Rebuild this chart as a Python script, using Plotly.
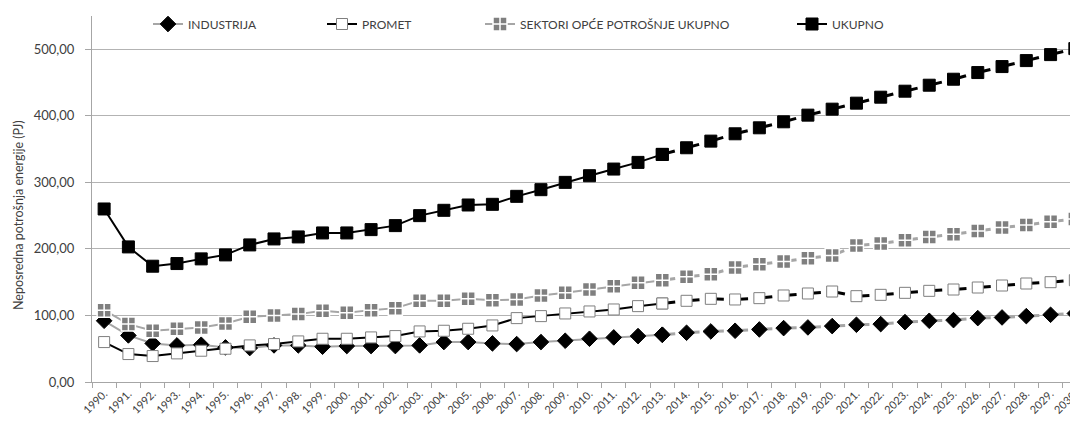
import plotly.graph_objects as go

years = [f"{y}." for y in range(1990, 2031)]

industrija = [92, 70, 58, 55, 56, 52, 51, 55, 55, 53, 54, 54, 54, 55, 60, 60, 58, 57, 60, 62, 65, 67, 69, 71,
              74, 76, 77, 79, 81, 82, 84, 86, 87, 90, 92, 93, 96, 97, 99, 101, 103]
promet = [60, 42, 39, 43, 47, 50, 55, 57, 61, 65, 65, 67, 69, 76, 77, 80, 85, 96, 99, 103, 106, 109, 114, 118,
          122, 125, 124, 126, 130, 133, 136, 129, 131, 134, 137, 139, 142, 145, 148, 150, 153]
sektori = [108, 87, 77, 80, 82, 88, 98, 100, 102, 107, 104, 108, 111, 122, 122, 125, 123, 124, 130, 134, 139, 144, 149, 153,
           158, 162, 172, 177, 181, 186, 190, 205, 208, 213, 218, 222, 227, 232, 236, 241, 245]
ukupno = [260, 203, 174, 178, 185, 191, 206, 215, 218, 224, 224, 229, 235, 250, 258, 266, 267, 279, 289, 300, 310, 320, 330, 342,
          352, 362, 373, 382, 391, 401, 410, 419, 428, 437, 446, 455, 465, 474, 483, 492, 501]

hist_end = 2013 - 1990  # last historical index

series = [
    dict(name="INDUSTRIJA", y=industrija, line="#a6a6a6",
         marker=dict(symbol="diamond", size=12, color="black", line=dict(color="black", width=1)), legend="legend"),
    dict(name="PROMET", y=promet, line="black",
         marker=dict(symbol="square", size=11, color="white", line=dict(color="#7f7f7f", width=1)), legend="legend2"),
    dict(name="SEKTORI OPĆE POTROŠNJE UKUPNO", y=sektori, line="#a6a6a6",
         marker=dict(symbol="square-cross", size=14, color="#7f7f7f", line=dict(color="white", width=1.5)), legend="legend3"),
    dict(name="UKUPNO", y=ukupno, line="black",
         marker=dict(symbol="square", size=12, color="black", line=dict(color="black", width=1)), legend="legend4"),
]

fig = go.Figure()
for s in series:
    # historical part: solid line
    fig.add_trace(go.Scatter(
        x=years[:hist_end + 1], y=s["y"][:hist_end + 1], mode="lines+markers", name=s["name"],
        line=dict(color=s["line"], width=2), marker=s["marker"], legend=s["legend"]))
    # projection part: one short dash after each marker (segments split so the dash restarts)
    seg_x, seg_y = [], []
    for i in range(hist_end, len(years) - 1):
        seg_x += [years[i], years[i + 1], None]
        seg_y += [s["y"][i], s["y"][i + 1], None]
    fig.add_trace(go.Scatter(
        x=seg_x, y=seg_y, mode="lines", showlegend=False, connectgaps=False, hoverinfo="skip",
        line=dict(color=s["line"], width=3, dash="13px,200px")))
    fig.add_trace(go.Scatter(
        x=years[hist_end:], y=s["y"][hist_end:], mode="markers", name=s["name"], showlegend=False,
        marker=s["marker"]))

font = "Lato, 'Open Sans', sans-serif"
# page body has an 8px margin; figure is sized so the plot area spans x 92..1078, y 16..382 on the page
L, W = 92, 986
legend_common = dict(orientation="h", xref="paper", yref="paper", y=(382 - 24) / 366, yanchor="middle",
                     font=dict(family=font, size=12, color="#404040"), bgcolor="rgba(0,0,0,0)")
fig.update_layout(
    width=1070, height=413,
    margin=dict(l=84, r=0, t=8, b=39, autoexpand=False),
    paper_bgcolor="white", plot_bgcolor="white",
    separators=",.",
    font=dict(family=font, size=11, color="#595959"),
    legend=dict(x=(148 - L) / W, **legend_common),
    legend2=dict(x=(322 - L) / W, **legend_common),
    legend3=dict(x=(480 - L) / W, **legend_common),
    legend4=dict(x=(792 - L) / W, **legend_common),
    xaxis=dict(type="category", range=[-0.5, 40.13], tickangle=-45, showgrid=False, automargin=False,
               showline=True, linecolor="#a6a6a6", linewidth=1,
               ticks="outside", tickson="boundaries", ticklen=5, tickcolor="#a6a6a6",
               tickfont=dict(size=11, color="#404040")),
    yaxis=dict(range=[0, 550], tickvals=[0, 100, 200, 300, 400, 500], tickformat=".2f", automargin=False,
               showgrid=True, gridcolor="#b3b3b3", gridwidth=1, zeroline=False,
               showline=True, linecolor="#a6a6a6", linewidth=1,
               ticks="outside", ticklen=6, tickcolor="#a6a6a6", ticklabelstandoff=8,
               tickfont=dict(size=13, color="#404040")),
    annotations=[dict(text="Neposredna potrošnja energije (PJ)", textangle=-90,
                      xref="paper", yref="paper", x=(18 - L) / W, y=(382 - 215) / 366,
                      xanchor="center", yanchor="middle", showarrow=False,
                      font=dict(family=font, size=12.5, color="#404040"))],
)

fig.write_html("out.html")
